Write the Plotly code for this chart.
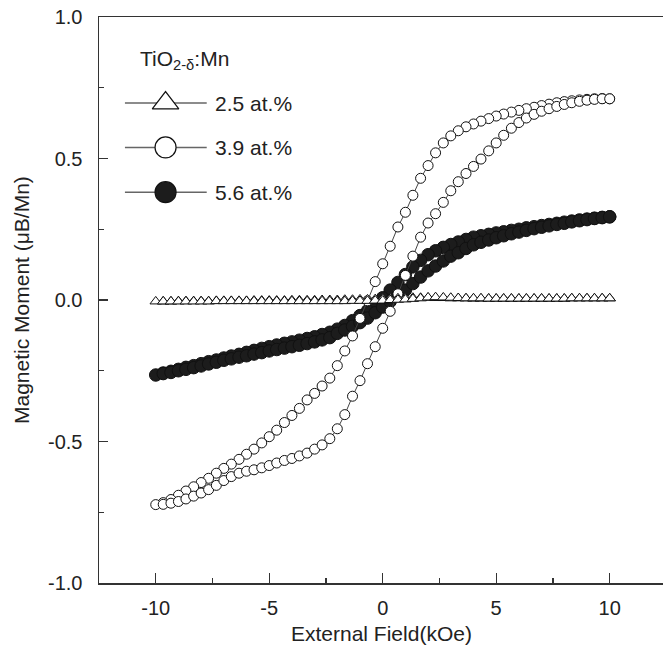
import plotly.graph_objects as go

# ---------------- data ----------------
FIELD = [-10.0, -9.67, -9.33, -9.0, -8.67, -8.33, -8.0, -7.67, -7.33, -7.0,
         -6.67, -6.33, -6.0, -5.67, -5.33, -5.0, -4.67, -4.33, -4.0, -3.67,
         -3.33, -3.0, -2.67, -2.33, -2.0, -1.67, -1.33, -1.0, -0.67, -0.33,
         0.0, 0.33, 0.67, 1.0, 1.33, 1.67, 2.0, 2.33, 2.67, 3.0,
         3.33, 3.67, 4.0, 4.33, 4.67, 5.0, 5.33, 5.67, 6.0, 6.33,
         6.67, 7.0, 7.33, 7.67, 8.0, 8.33, 8.67, 9.0, 9.33, 9.67, 10.0]

# 2.5 at.%  (descending-field branch / ascending-field branch, listed on FIELD)
M25_DOWN = [-0.005, -0.005, -0.005, -0.004, -0.004, -0.004, -0.004, -0.004, -0.003, -0.003,
            -0.003, -0.003, -0.003, -0.002, -0.002, -0.002, -0.002, -0.002, -0.001, -0.001,
            -0.001, -0.001, 0.000, 0.000, 0.000, 0.001, 0.001, 0.002, 0.002, 0.003,
            0.004, 0.005, 0.006, 0.007, 0.008, 0.008, 0.008, 0.007, 0.007, 0.006,
            0.006, 0.006, 0.005, 0.005, 0.005, 0.005, 0.005, 0.005, 0.005, 0.005,
            0.005, 0.005, 0.005, 0.005, 0.005, 0.006, 0.006, 0.006, 0.006, 0.006, 0.006]
M25_UP = [-0.005, -0.005, -0.005, -0.005, -0.005, -0.005, -0.005, -0.005, -0.004, -0.004,
          -0.004, -0.004, -0.004, -0.004, -0.004, -0.004, -0.004, -0.004, -0.004, -0.004,
          -0.004, -0.004, -0.004, -0.004, -0.004, -0.004, -0.003, -0.003, -0.003, -0.002,
          -0.002, 0.000, 0.001, 0.002, 0.004, 0.006, 0.009, 0.010, 0.009, 0.008,
          0.007, 0.006, 0.006, 0.006, 0.005, 0.005, 0.005, 0.005, 0.005, 0.005,
          0.005, 0.005, 0.005, 0.005, 0.005, 0.006, 0.006, 0.006, 0.006, 0.006, 0.006]

# 3.9 at.%
M39_DOWN = [-0.723, -0.716, -0.705, -0.690, -0.675, -0.660, -0.645, -0.630, -0.612, -0.595,
            -0.580, -0.563, -0.545, -0.527, -0.505, -0.483, -0.460, -0.433, -0.408, -0.383,
            -0.353, -0.330, -0.304, -0.276, -0.232, -0.180, -0.127, -0.065, -0.003, 0.065,
            0.128, 0.190, 0.258, 0.310, 0.370, 0.430, 0.475, 0.520, 0.555, 0.580,
            0.598, 0.612, 0.622, 0.632, 0.641, 0.650, 0.657, 0.664, 0.670, 0.676,
            0.681, 0.687, 0.692, 0.697, 0.701, 0.704, 0.707, 0.709, 0.711, 0.712, 0.711]
M39_UP = [-0.723, -0.722, -0.718, -0.712, -0.703, -0.693, -0.682, -0.670, -0.655, -0.638,
          -0.624, -0.612, -0.605, -0.600, -0.593, -0.585, -0.576, -0.567, -0.560, -0.551,
          -0.541, -0.527, -0.512, -0.490, -0.455, -0.405, -0.340, -0.285, -0.225, -0.165,
          -0.100, -0.040, 0.022, 0.087, 0.155, 0.222, 0.272, 0.305, 0.345, 0.386,
          0.418, 0.447, 0.472, 0.498, 0.527, 0.555, 0.582, 0.607, 0.627, 0.643,
          0.656, 0.667, 0.676, 0.684, 0.691, 0.697, 0.702, 0.706, 0.709, 0.711, 0.711]

# 5.6 at.%
M56_DOWN = [-0.265, -0.258, -0.252, -0.245, -0.238, -0.232, -0.225, -0.218, -0.212, -0.205,
            -0.198, -0.192, -0.185, -0.178, -0.171, -0.165, -0.159, -0.153, -0.148, -0.142,
            -0.136, -0.130, -0.122, -0.114, -0.103, -0.090, -0.073, -0.055, -0.038, -0.018,
            0.008, 0.035, 0.062, 0.090, 0.117, 0.140, 0.160, 0.174, 0.186, 0.196,
            0.205, 0.214, 0.222, 0.227, 0.232, 0.237, 0.241, 0.246, 0.250, 0.255,
            0.259, 0.263, 0.267, 0.271, 0.275, 0.279, 0.283, 0.286, 0.289, 0.292, 0.294]
M56_UP = [-0.265, -0.260, -0.256, -0.250, -0.245, -0.239, -0.233, -0.226, -0.220, -0.213,
          -0.208, -0.202, -0.197, -0.191, -0.186, -0.180, -0.175, -0.170, -0.165, -0.160,
          -0.154, -0.148, -0.141, -0.133, -0.118, -0.106, -0.093, -0.080, -0.064, -0.045,
          -0.025, -0.005, 0.015, 0.035, 0.058, 0.081, 0.103, 0.120, 0.138, 0.155,
          0.167, 0.182, 0.195, 0.204, 0.212, 0.220, 0.227, 0.234, 0.240, 0.246,
          0.252, 0.257, 0.262, 0.267, 0.271, 0.276, 0.280, 0.284, 0.288, 0.291, 0.294]

SERIES = ["2.5 at.%", "3.9 at.%", "5.6 at.%"]
X_TICKS = [-10, -5, 0, 5, 10]
X_TICK_TEXT = ["-10", "-5", "0", "5", "10"]
Y_TICKS = [-1.0, -0.5, 0.0, 0.5, 1.0]
Y_TICK_TEXT = ["-1.0", "-0.5", "0.0", "0.5", "1.0"]
LEGEND_TITLE = "TiO<sub>2-δ</sub>:Mn"
X_TITLE = "External Field(kOe)"
Y_TITLE = "Magnetic Moment (μB/Mn)"

# ---------------- styling ----------------
FONT = "Liberation Sans, Arial, sans-serif"
INK = "#222222"
LINE = "#444444"
W, H = 663, 652
ML, MR, MT, MB = 99, 0, 17, 69


def loop(down, up):
    # field swept from +10 down to -10, then back up to +10
    xs = FIELD[::-1] + FIELD[1:]
    ys = down[::-1] + up[1:]
    return xs, ys


fig = go.Figure()

x56, y56 = loop(M56_DOWN, M56_UP)
fig.add_trace(go.Scatter(x=x56, y=y56, mode="lines+markers", name=SERIES[2],
                         line=dict(color=LINE, width=1),
                         marker=dict(symbol="circle", size=12.5, color="#1c1c1c",
                                     line=dict(color="#111111", width=1)),
                         showlegend=False))
x39, y39 = loop(M39_DOWN, M39_UP)
fig.add_trace(go.Scatter(x=x39, y=y39, mode="lines+markers", name=SERIES[1],
                         line=dict(color=LINE, width=1),
                         marker=dict(symbol="circle", size=10, color="white",
                                     line=dict(color="#111111", width=1)),
                         showlegend=False))
x25, y25 = loop(M25_DOWN, M25_UP)
fig.add_trace(go.Scatter(x=x25, y=y25, mode="lines+markers", name=SERIES[0],
                         line=dict(color=LINE, width=1),
                         marker=dict(symbol="triangle-up", size=10, color="white",
                                     line=dict(color="#111111", width=1)),
                         showlegend=False))

# ---------------- custom legend (drawn on an overlay 0..1 axis) ----------------
LEG_ROWS = [0.848, 0.7696, 0.6905]
LEG_X0, LEG_XM, LEG_X1, LEG_TX = 0.046, 0.118, 0.191, 0.203
leg_styles = [
    dict(symbol="triangle-up", size=23, color="white", line=dict(color="#111111", width=1.2)),
    dict(symbol="circle", size=21, color="white", line=dict(color="#111111", width=1.2)),
    dict(symbol="circle", size=21, color="#1c1c1c", line=dict(color="#111111", width=1.2)),
]
for name, yy, st in zip(SERIES, LEG_ROWS, leg_styles):
    fig.add_trace(go.Scatter(x=[LEG_X0, LEG_X1], y=[yy, yy], mode="lines",
                             line=dict(color="#666666", width=1.5),
                             xaxis="x2", yaxis="y2", showlegend=False, hoverinfo="skip"))
    fig.add_trace(go.Scatter(x=[LEG_XM], y=[yy], mode="markers", marker=st,
                             xaxis="x2", yaxis="y2", showlegend=False, hoverinfo="skip"))
    fig.add_annotation(x=LEG_TX, y=yy, xref="paper", yref="paper", text=name,
                       showarrow=False, xanchor="left", yanchor="middle",
                       font=dict(family=FONT, size=21, color=INK))

fig.add_annotation(x=0.069, y=0.924, xref="paper", yref="paper", text=LEGEND_TITLE,
                   showarrow=False, xanchor="left", yanchor="middle",
                   font=dict(family=FONT, size=21, color=INK))

# axis titles placed as annotations (pixel offsets from the plot area)
fig.add_annotation(x=0.5, xref="paper", y=0, yref="paper", yshift=-50,
                   text=X_TITLE, showarrow=False, xanchor="center", yanchor="middle",
                   font=dict(family=FONT, size=21, color=INK))
fig.add_annotation(x=0, xref="paper", xshift=-78, y=0.5, yref="paper",
                   text=Y_TITLE, showarrow=False, textangle=-90,
                   xanchor="center", yanchor="middle",
                   font=dict(family=FONT, size=21, color=INK))

axis_common = dict(showgrid=False, zeroline=False, showline=True, linecolor="#333333",
                   linewidth=1.5, ticks="inside", tickcolor="#333333", tickwidth=1.2,
                   automargin=False,
                   tickfont=dict(family=FONT, size=20, color=INK))

fig.update_layout(
    width=W, height=H,
    margin=dict(l=ML, r=MR, t=MT, b=MB, autoexpand=False),
    paper_bgcolor="white", plot_bgcolor="white",
    font=dict(family=FONT, size=20, color=INK),
    xaxis=dict(range=[-12.5, 12.35], tickvals=X_TICKS, ticktext=X_TICK_TEXT,
               ticklen=10, mirror=True, ticklabelstandoff=6,
               minor=dict(dtick=2.5, tick0=0, ticklen=5, ticks="inside", tickcolor="#333333"),
               **axis_common),
    yaxis=dict(range=[-1.0, 1.0], tickvals=Y_TICKS, ticktext=Y_TICK_TEXT,
               ticklen=9, mirror=False, ticklabelstandoff=11,
               minor=dict(dtick=0.25, tick0=0, ticklen=5, ticks="inside", tickcolor="#333333"),
               **axis_common),
    xaxis2=dict(overlaying="x", range=[0, 1], visible=False),
    yaxis2=dict(overlaying="y", range=[0, 1], visible=False),
)

# remove the browser's default 8px page margin so the figure sits at (0, 0)
fig.write_html("out.html",
               config={"displayModeBar": False, "staticPlot": True},
               post_script="document.body.style.margin='0';document.body.style.overflow='hidden';")
